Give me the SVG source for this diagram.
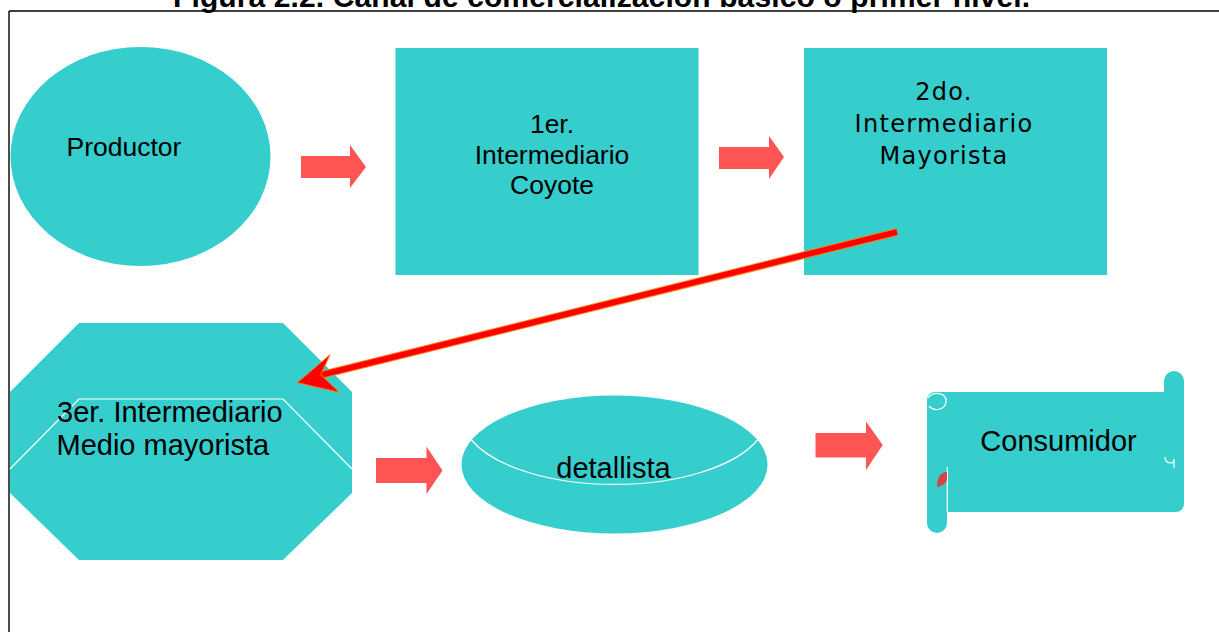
<svg xmlns="http://www.w3.org/2000/svg" width="1219" height="632" viewBox="0 0 1219 632">
<defs>
<style>
.shape{fill:#36CDCD;}
.blk{fill:#FF5454;}
.lbl{font-family:"Liberation Sans",Arial,sans-serif;fill:#000;}
.lbl2{font-family:"DejaVu Sans",Verdana,sans-serif;fill:#000;font-size:24px;letter-spacing:1.3px;}
.wl{fill:none;stroke:#FFFFFF;stroke-width:1.2;}
</style>
</defs>
<rect width="1219" height="632" fill="#FFFFFF"/>
<g id="frame">
<line x1="9" y1="11" x2="1219" y2="11" stroke="#000" stroke-width="1.6"/>
<line x1="9" y1="11" x2="9" y2="632" stroke="#000" stroke-width="1.4"/>
<text x="173" y="7" class="lbl" font-size="30" font-weight="bold" textLength="857" lengthAdjust="spacing">Figura 2.2. Canal de comercialización básico o primer nivel.</text>
</g>
<g id="productor">
<ellipse cx="140.5" cy="156.5" rx="130" ry="109.5" class="shape"/>
<text x="66.5" y="156" class="lbl" font-size="26.5">Productor</text>
</g>
<g id="intermediario1">
<rect x="395.5" y="48" width="303" height="227" class="shape"/>
<text class="lbl" font-size="26.5" text-anchor="middle"><tspan x="552" y="133">1er.</tspan><tspan x="552" y="163.5">Intermediario</tspan><tspan x="552" y="194">Coyote</tspan></text>
</g>
<g id="intermediario2">
<rect x="804" y="48" width="303" height="227" class="shape"/>
<text class="lbl2" text-anchor="middle"><tspan x="944" y="99.5">2do.</tspan><tspan x="944" y="131.5">Intermediario</tspan><tspan x="944" y="163.5">Mayorista</tspan></text>
</g>
<g id="intermediario3">
<polygon points="79,323 283,323 352,392 352,493 283,560 79,560 10,493 10,392" class="shape"/>
<polyline points="10,469 79,399 283,399 352,469" class="wl"/>
<text class="lbl" font-size="29"><tspan x="57" y="422">3er. Intermediario</tspan><tspan x="56.5" y="455">Medio mayorista</tspan></text>
</g>
<g id="detallista">
<ellipse cx="614.5" cy="464.5" rx="153" ry="69" class="shape"/>
<path d="M471.5,440 A153,69 0 0 0 757.5,440" class="wl"/>
<text x="613.5" y="478" class="lbl" font-size="29" text-anchor="middle">detallista</text>
</g>
<g id="consumidor">
<path d="M927,400 A8,8 0 0 1 935,392 L1164,392 L1164,381 A10,10 0 0 1 1184,381 L1184,504 A8,8 0 0 1 1176,512 L947,512 L947,523 A10,10 0 0 1 927,523 Z" class="shape"/>
<line x1="947.3" y1="467" x2="947.3" y2="512" stroke="#FFFFFF" stroke-width="1.2"/>
<path d="M928,398 C933,391 947,392 946,402 C945,410 934,412 929,406" class="wl"/>
<path d="M1165,457 Q1165,463 1171,463 Q1174,463 1174,459 L1174,468" class="wl"/>
<path d="M947,472 C941,472 937,477 937,487 C942,486 947,483 947,479 Z" fill="#D24646"/>
<text x="1058.5" y="451" class="lbl" font-size="29" text-anchor="middle">Consumidor</text>
</g>
<g id="connectors">
<polygon points="301,156 350,156 350,145 366,167 350,188 350,178 301,178" class="blk"/>
<polygon points="719,147 769,147 769,136 784,157 769,179 769,169 719,169" class="blk"/>
<polygon points="376,458 426.5,458 426.5,446.5 442.5,470.5 426.5,494 426.5,483 376,483" class="blk"/>
<polygon points="815.5,433 866,433 866,421.5 882.7,445 866,470 866,457.5 815.5,457.5" class="blk"/>
<line x1="897" y1="232" x2="321" y2="375" stroke="#FF7A00" stroke-width="7.5"/>
<line x1="897" y1="232" x2="321" y2="375" stroke="#FF0000" stroke-width="5.5"/>
<polygon points="297.3,382.7 330,354.7 320.7,374.7 339.3,392.3" fill="#FF0000" stroke="#FF7A00" stroke-width="1" stroke-linejoin="miter"/>
</g>
</svg>
